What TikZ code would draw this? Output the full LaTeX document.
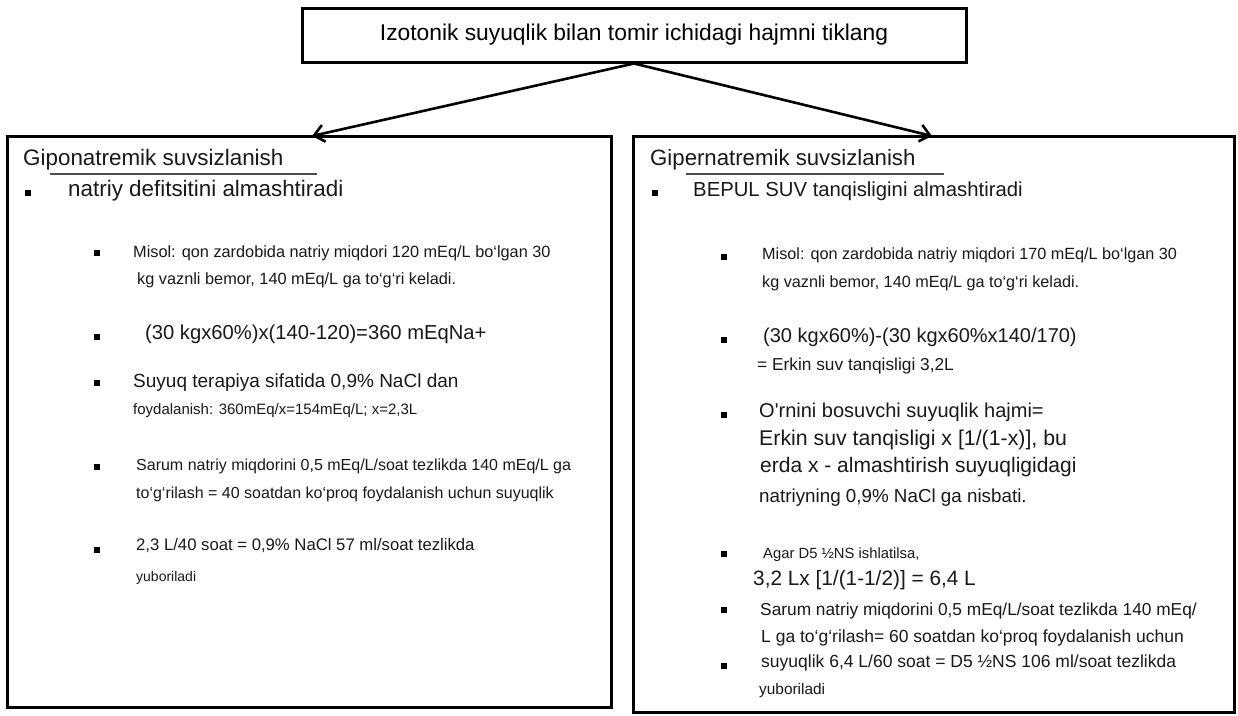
\documentclass[tikz,border=0pt]{standalone}
\usepackage{fontspec}
\setmainfont{Liberation Sans}
\usetikzlibrary{arrows.meta}
\newcommand\myfs[1]{\fontsize{#1}{#1}\selectfont}
\begin{document}
\begin{tikzpicture}[x=1pt,y=-1pt,
  box/.style={draw=black, line width=3pt, inner sep=0pt, fill=white},
  t/.style={anchor=mid west, inner sep=0pt, text=black!90},
  bul/.style={fill=black, minimum size=6.5pt, inner sep=0pt},
  arr/.style={line width=2.6pt, -{Straight Barb[length=10pt,width=17pt,line width=2.6pt]}},
  uline/.style={black!70, line width=1.3pt}]
\useasboundingbox[fill=white] (0,0) rectangle (1238,715);
% boxes
\node[box, minimum width=664pt, minimum height=54pt, font=\myfs{22.8}] (top) at (634,35) {Izotonik suyuqlik bilan tomir ichidagi hajmni tiklang};
\node[box, minimum width=604pt, minimum height=571pt] (lbox) at (309,421.5) {};
\node[box, minimum width=601pt, minimum height=576pt] (rbox) at (933.5,424) {};
\coordinate (ltip) at (312,136);
\coordinate (rtip) at (932,136);
\draw[arr] (top.south) -- (ltip);
\draw[arr] (top.south) -- (rtip);
% left content
\node[t, font=\myfs{22.4}] (lh) at (23,163) {Giponatremik suvsizlanish};
\draw[uline] (50,174) -- (317,174);
\node[bul] (lb1) at (28,193) {};
\node[t, font=\myfs{22.4}] (l1) at (68,194) {natriy defitsitini almashtiradi};
\node[bul] (lb2) at (97,253) {};
\node[t, font=\myfs{16.3}] (l2a) at (133,255) {Misol: qon zardobida natriy miqdori 120 mEq/L bo‘lgan 30};
\node[t, font=\myfs{16.3}] (l2b) at (137,282) {kg vaznli bemor, 140 mEq/L ga to‘g‘ri keladi.};
\node[bul] (lb3) at (97,337) {};
\node[t, font=\myfs{20.2}] (l3) at (145,337) {(30 kgx60\%)x(140-120)=360 mEqNa+};
\node[bul] (lb4) at (97,383) {};
\node[t, font=\myfs{19}] (l4a) at (133,385) {Suyuq terapiya sifatida 0,9\% NaCl dan};
\node[t, font=\myfs{15}] (l4b) at (133,412) {foydalanish: 360mEq/x=154mEq/L; x=2,3L};
\node[bul] (lb5) at (97,467) {};
\node[t, font=\myfs{16}] (l5a) at (136,468) {Sarum natriy miqdorini 0,5 mEq/L/soat tezlikda 140 mEq/L ga};
\node[t, font=\myfs{16}] (l5b) at (136,496) {to‘g‘rilash = 40 soatdan ko‘proq foydalanish uchun suyuqlik};
\node[bul] (lb6) at (97,550) {};
\node[t, font=\myfs{16.7}] (l6a) at (136,548) {2,3 L/40 soat = 0,9\% NaCl 57 ml/soat tezlikda};
\node[t, font=\myfs{14}] (l6b) at (136,579) {yuboriladi};
% right content
\node[t, font=\myfs{22.2}] (rh) at (650,163) {Gipernatremik suvsizlanish};
\draw[uline] (686,174) -- (944,174);
\node[bul] (rb1) at (655,193) {};
\node[t, font=\myfs{20.3}] (r1) at (693,194) {BEPUL SUV tanqisligini almashtiradi};
\node[bul] (rb2) at (724,257) {};
\node[t, font=\myfs{16.2}] (r2a) at (762,257) {Misol: qon zardobida natriy miqdori 170 mEq/L bo‘lgan 30};
\node[t, font=\myfs{16.2}] (r2b) at (762,285) {kg vaznli bemor, 140 mEq/L ga to‘g‘ri keladi.};
\node[bul] (rb3) at (724,340) {};
\node[t, font=\myfs{20}] (r3a) at (763,340) {(30 kgx60\%)-(30 kgx60\%x140/170)};
\node[t, font=\myfs{17.3}] (r3b) at (757,368) {= Erkin suv tanqisligi 3,2L};
\node[bul] (rb4) at (724,415) {};
\node[t, font=\myfs{20}] (r4a) at (759,415) {O\textquotesingle rnini bosuvchi suyuqlik hajmi=};
\node[t, font=\myfs{21.3}] (r4b) at (759,443) {Erkin suv tanqisligi x [1/(1-x)], bu};
\node[t, font=\myfs{21}] (r4c) at (760,470) {erda x - almashtirish suyuqligidagi};
\node[t, font=\myfs{18.8}] (r4d) at (759,500) {natriyning 0,9\% NaCl ga nisbati.};
\node[bul] (rb5) at (724,554) {};
\node[t, font=\myfs{14.8}] (r5a) at (763,556) {Agar D5 ½NS ishlatilsa,};
\node[t, font=\myfs{20.8}] (r5b) at (753,583) {3,2 Lx [1/(1-1/2)] = 6,4 L};
\node[bul] (rb6) at (724,610) {};
\node[t, font=\myfs{17.3}] (r6a) at (760,613) {Sarum natriy miqdorini 0,5 mEq/L/soat tezlikda 140 mEq/};
\node[t, font=\myfs{17.5}] (r6b) at (761,640) {L ga to‘g‘rilash= 60 soatdan ko‘proq foydalanish uchun};
\node[bul] (rb7) at (724,666) {};
\node[t, font=\myfs{17.5}] (r7a) at (761,665) {suyuqlik 6,4 L/60 soat = D5 ½NS 106 ml/soat tezlikda};
\node[t, font=\myfs{15.4}] (r7b) at (759,692) {yuboriladi};
\end{tikzpicture}
\end{document}
